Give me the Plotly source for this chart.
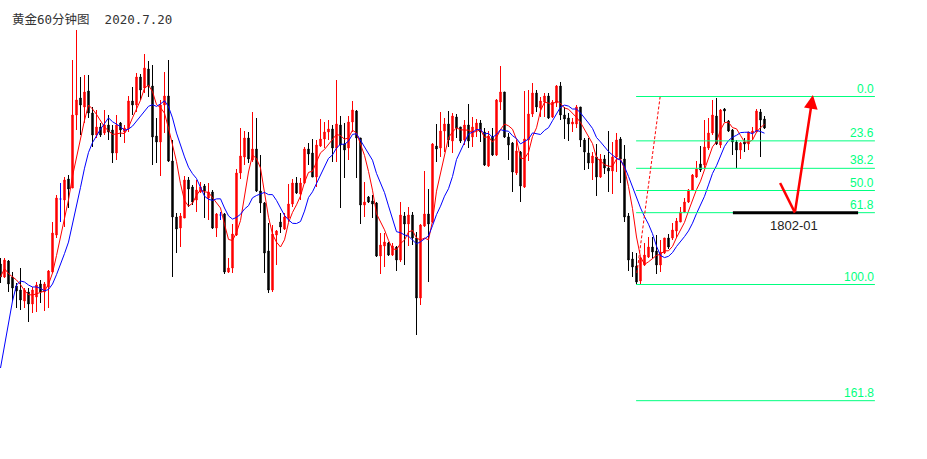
import numpy as np
import pandas as pd
import plotly.graph_objects as go

# ---------------- data (gold, 60-minute bars) ----------------
opens = [
    1796.9, 1795.6, 1797.2, 1795.6, 1794.7, 1794.3, 1793.2, 1794.1, 1792.9, 1793.6,
    1794.9, 1794.1, 1794.6, 1796.1, 1799.8, 1803.4, 1803.3, 1805.4, 1804.5, 1811.8,
    1813.5, 1812.6, 1814.2, 1812.0, 1809.8, 1810.6, 1810.0, 1810.8, 1810.3, 1808.0,
    1811.0, 1810.1, 1810.5, 1813.2, 1812.8, 1815.6, 1814.5, 1816.4, 1814.7, 1809.7,
    1809.1, 1812.8, 1813.7, 1807.2, 1801.6, 1800.5, 1801.5, 1805.3, 1804.6, 1803.3,
    1804.1, 1804.7, 1803.5, 1804.1, 1800.5, 1801.8, 1801.9, 1796.1, 1796.5, 1799.8,
    1806.0, 1807.6, 1809.5, 1807.3, 1808.4, 1804.2, 1803.0, 1798.2, 1794.3, 1799.8,
    1801.1, 1800.4, 1801.5, 1802.9, 1805.0, 1803.9, 1805.0, 1808.4, 1808.0, 1805.6,
    1808.7, 1809.4, 1810.1, 1810.4, 1808.5, 1810.8, 1808.9, 1808.5, 1811.1, 1812.2,
    1809.5, 1802.8, 1803.6, 1803.2, 1803.0, 1797.7, 1798.7, 1799.0, 1797.8, 1798.6,
    1797.3, 1801.7, 1800.9, 1801.8, 1799.5, 1793.5, 1800.7, 1801.9, 1801.1, 1808.7,
    1808.5, 1810.2, 1810.9, 1809.2, 1811.6, 1810.6, 1809.3, 1810.8, 1809.6, 1810.3,
    1811.0, 1810.1, 1806.7, 1809.6, 1807.8, 1813.1, 1814.1, 1809.6, 1809.0, 1806.0,
    1808.1, 1804.6, 1809.3, 1811.9, 1814.0, 1812.5, 1813.1, 1813.7, 1811.6, 1813.0,
    1814.7, 1811.8, 1811.5, 1810.9, 1810.9, 1812.6, 1809.3, 1808.0, 1807.0, 1807.6,
    1805.6, 1807.4, 1806.5, 1806.2, 1807.6, 1809.4, 1807.4, 1801.7, 1797.4, 1796.7,
    1795.2, 1796.8, 1797.6, 1798.6, 1798.2, 1796.8, 1798.0, 1799.5, 1799.5, 1800.2,
    1801.1, 1802.1, 1803.1, 1804.3, 1805.6, 1806.9, 1806.8, 1808.5, 1810.0, 1811.7,
    1808.8, 1812.4, 1811.2, 1810.3, 1809.1, 1808.3, 1809.1, 1808.9, 1810.0, 1810.1,
    1812.1, 1811.4,
]
highs = [
    1797.5, 1797.5, 1797.3, 1796.1, 1795.0, 1796.5, 1794.5, 1794.5, 1794.6, 1795.1,
    1795.3, 1795.1, 1796.3, 1801.1, 1803.8, 1805.0, 1805.6, 1805.8, 1817.3, 1820.3,
    1815.6, 1815.8, 1815.8, 1812.6, 1812.3, 1811.0, 1812.3, 1811.8, 1810.8, 1811.8,
    1811.1, 1810.8, 1813.7, 1814.6, 1816.0, 1815.9, 1817.9, 1817.2, 1816.8, 1811.5,
    1813.3, 1816.1, 1817.3, 1809.3, 1802.0, 1802.0, 1805.7, 1805.6, 1804.8, 1805.3,
    1805.1, 1804.9, 1805.0, 1804.3, 1802.0, 1802.1, 1802.0, 1797.5, 1800.9, 1806.4,
    1810.5, 1810.2, 1810.1, 1812.1, 1811.5, 1807.8, 1803.1, 1801.0, 1800.8, 1800.3,
    1802.0, 1802.0, 1804.9, 1805.4, 1805.6, 1805.5, 1808.6, 1809.0, 1809.4, 1809.3,
    1811.4, 1811.1, 1811.3, 1810.8, 1815.3, 1811.7, 1811.0, 1811.7, 1813.2, 1812.3,
    1809.5, 1805.1, 1803.7, 1803.8, 1803.1, 1800.0, 1800.0, 1799.1, 1799.0, 1798.7,
    1803.1, 1802.1, 1802.6, 1802.1, 1800.1, 1800.9, 1806.2, 1804.4, 1809.0, 1810.9,
    1812.1, 1811.5, 1812.2, 1812.0, 1811.9, 1810.6, 1811.3, 1812.9, 1811.6, 1811.4,
    1811.3, 1810.5, 1810.2, 1810.5, 1813.4, 1816.7, 1814.1, 1810.0, 1809.1, 1809.3,
    1808.2, 1814.2, 1814.3, 1815.0, 1814.3, 1813.6, 1814.0, 1814.0, 1813.3, 1814.8,
    1815.1, 1812.6, 1812.0, 1811.5, 1812.8, 1812.6, 1809.5, 1809.5, 1808.1, 1808.9,
    1807.9, 1807.8, 1810.2, 1809.1, 1810.0, 1809.6, 1808.8, 1802.0, 1798.1, 1798.0,
    1797.6, 1799.0, 1799.6, 1799.6, 1799.8, 1799.3, 1799.5, 1799.9, 1801.0, 1801.5,
    1802.6, 1803.5, 1804.4, 1805.9, 1807.2, 1808.7, 1811.3, 1811.5, 1813.3, 1813.5,
    1812.4, 1812.5, 1811.3, 1810.4, 1809.3, 1809.1, 1809.5, 1810.1, 1810.6, 1812.4,
    1812.4, 1811.7,
]
lows = [
    1795.0, 1795.5, 1794.1, 1793.2, 1792.5, 1792.3, 1792.5, 1791.1, 1792.0, 1792.1,
    1793.0, 1792.2, 1792.5, 1796.0, 1799.5, 1801.1, 1800.6, 1802.5, 1804.5, 1810.3,
    1809.8, 1811.0, 1811.5, 1808.6, 1809.5, 1809.6, 1809.8, 1809.3, 1807.0, 1807.3,
    1809.6, 1809.0, 1810.1, 1811.8, 1812.1, 1813.3, 1814.0, 1813.6, 1806.8, 1807.0,
    1805.7, 1810.0, 1807.1, 1795.6, 1798.0, 1798.6, 1801.5, 1802.6, 1802.8, 1802.1,
    1804.0, 1801.5, 1801.3, 1800.4, 1799.6, 1801.3, 1795.9, 1796.0, 1796.0, 1799.7,
    1805.4, 1806.8, 1807.0, 1807.1, 1804.1, 1802.0, 1796.0, 1794.0, 1794.1, 1796.8,
    1800.0, 1800.3, 1801.1, 1802.6, 1803.9, 1803.3, 1804.9, 1806.8, 1805.6, 1804.6,
    1808.6, 1808.5, 1809.3, 1807.1, 1807.1, 1802.5, 1805.5, 1807.3, 1810.1, 1805.5,
    1800.9, 1801.6, 1803.0, 1801.5, 1797.6, 1795.9, 1796.6, 1797.7, 1797.7, 1796.2,
    1797.1, 1796.8, 1798.7, 1798.8, 1789.8, 1792.8, 1800.6, 1795.1, 1801.0, 1807.1,
    1807.6, 1808.1, 1808.6, 1808.0, 1809.5, 1809.0, 1808.8, 1808.5, 1808.6, 1809.6,
    1809.1, 1806.7, 1806.6, 1807.7, 1807.7, 1812.3, 1809.5, 1807.3, 1804.1, 1805.8,
    1803.1, 1804.5, 1807.2, 1811.6, 1812.1, 1811.6, 1811.6, 1811.4, 1811.5, 1812.6,
    1811.3, 1809.4, 1809.2, 1810.1, 1810.5, 1808.6, 1806.3, 1806.4, 1805.3, 1803.7,
    1805.5, 1805.9, 1804.1, 1803.9, 1806.1, 1805.0, 1801.1, 1796.2, 1795.6, 1794.9,
    1794.9, 1796.7, 1797.5, 1797.5, 1795.9, 1796.1, 1797.9, 1798.4, 1799.3, 1799.5,
    1801.1, 1802.0, 1803.0, 1804.2, 1805.5, 1806.1, 1806.5, 1808.3, 1809.8, 1808.8,
    1808.5, 1811.1, 1810.1, 1807.8, 1806.5, 1807.4, 1808.1, 1808.3, 1809.3, 1810.1,
    1807.6, 1810.4,
]
closes = [
    1795.6, 1797.3, 1794.9, 1794.5, 1794.2, 1793.3, 1794.3, 1792.9, 1794.3, 1794.8,
    1794.1, 1794.9, 1796.2, 1800.0, 1803.5, 1803.4, 1805.3, 1804.4, 1811.8, 1813.3,
    1812.8, 1814.1, 1812.0, 1809.8, 1810.6, 1809.8, 1810.8, 1810.1, 1808.0, 1810.8,
    1810.3, 1810.5, 1813.2, 1812.8, 1815.6, 1814.3, 1816.5, 1814.7, 1809.6, 1809.1,
    1812.8, 1813.7, 1807.2, 1801.6, 1800.4, 1801.7, 1805.3, 1804.4, 1803.1, 1804.3,
    1804.6, 1804.2, 1804.1, 1800.5, 1801.9, 1801.8, 1796.1, 1796.5, 1799.9, 1806.0,
    1807.7, 1809.5, 1807.4, 1808.4, 1804.2, 1803.0, 1798.0, 1794.3, 1799.9, 1800.2,
    1800.6, 1801.6, 1802.9, 1805.0, 1804.0, 1805.0, 1808.4, 1807.9, 1805.6, 1808.8,
    1809.4, 1810.1, 1810.4, 1808.5, 1810.9, 1808.8, 1808.3, 1811.1, 1812.3, 1809.5,
    1802.8, 1803.1, 1803.1, 1802.9, 1797.7, 1798.8, 1799.1, 1797.8, 1798.7, 1797.3,
    1801.8, 1800.9, 1801.8, 1799.5, 1793.5, 1800.8, 1801.9, 1800.9, 1808.9, 1808.4,
    1810.2, 1810.9, 1809.3, 1811.7, 1810.5, 1809.2, 1810.8, 1809.2, 1810.6, 1811.0,
    1810.1, 1806.8, 1809.7, 1807.8, 1813.3, 1814.1, 1809.6, 1808.8, 1806.1, 1808.2,
    1804.7, 1809.4, 1811.9, 1814.0, 1812.6, 1813.2, 1813.7, 1811.5, 1813.1, 1814.7,
    1811.8, 1811.4, 1810.9, 1811.1, 1812.6, 1809.3, 1808.1, 1807.0, 1807.7, 1805.6,
    1807.4, 1806.5, 1806.2, 1807.6, 1809.3, 1807.4, 1801.6, 1797.3, 1796.6, 1795.1,
    1797.5, 1797.8, 1798.6, 1798.1, 1796.8, 1798.1, 1799.5, 1798.6, 1800.3, 1801.2,
    1802.1, 1803.1, 1804.3, 1805.8, 1806.4, 1806.3, 1808.6, 1810.0, 1811.8, 1808.9,
    1812.3, 1812.2, 1810.2, 1809.1, 1808.3, 1809.0, 1808.9, 1810.1, 1810.2, 1812.2,
    1811.3, 1810.5,
]
# blue MA values read for the first bars (before 10 closes are available)
ma10_head = [1786.5, 1788.6, 1790.9, 1793.2, 1794.8, 1795.2, 1795.1, 1794.8, 1794.6]

# Fibonacci retracement
fib_high = 1813.65
fib_low = 1794.85
fib_ratios = [0.0, 23.6, 38.2, 50.0, 61.8, 100.0, 161.8]
fib_labels = ["0.0", "23.6", "38.2", "50.0", "61.8", "100.0", "161.8"]
fib_x = [158.9, 218.6]

support_label = "1802-01"
title_text = "黄金60分钟图  2020.7.20"

# ---------------- build ----------------
n = len(closes)
x = np.arange(n)
o = np.array(opens); h = np.array(highs); l = np.array(lows); c = np.array(closes)
doji = o == c
norm = ~doji

cs = pd.Series(closes)
ma5 = cs.rolling(5, min_periods=1).mean().values
ma10 = cs.rolling(10).mean().values
ma10[:len(ma10_head)] = ma10_head

fig = go.Figure()
fig.add_trace(go.Candlestick(
    x=x[norm], open=o[norm], high=h[norm], low=l[norm], close=c[norm],
    increasing=dict(line=dict(color="#ff0000", width=1), fillcolor="#ff0000"),
    decreasing=dict(line=dict(color="#000000", width=1), fillcolor="#000000"),
    whiskerwidth=0, showlegend=False, hoverinfo="skip"))
fig.add_trace(go.Candlestick(
    x=x[doji], open=o[doji], high=h[doji], low=l[doji], close=c[doji],
    increasing=dict(line=dict(color="#0000ff", width=1), fillcolor="#0000ff"),
    decreasing=dict(line=dict(color="#0000ff", width=1), fillcolor="#0000ff"),
    whiskerwidth=0, showlegend=False, hoverinfo="skip"))
fig.add_trace(go.Scatter(x=x, y=ma5, mode="lines", line=dict(color="#ff0000", width=1),
                         showlegend=False, hoverinfo="skip"))
fig.add_trace(go.Scatter(x=x, y=ma10, mode="lines", line=dict(color="#0000ff", width=1),
                         showlegend=False, hoverinfo="skip"))

green = "#00ff7f"
shapes = []
annotations = []
levels = {}
for r, lab in zip(fib_ratios, fib_labels):
    lv = fib_high - r / 100.0 * (fib_high - fib_low)
    levels[lab] = lv
    shapes.append(dict(type="line", xref="x", yref="y", x0=fib_x[0], x1=fib_x[1],
                       y0=lv, y1=lv, line=dict(color=green, width=1)))
    annotations.append(dict(x=fib_x[1], y=lv, xref="x", yref="y", text=lab,
                            showarrow=False, xanchor="right", yanchor="bottom",
                            yshift=-1, xshift=1,
                            font=dict(family="Liberation Sans, Arial", size=12, color=green)))

sup = levels["61.8"]
# dashed projection line
shapes.append(dict(type="line", xref="x", yref="y", x0=159.1, y0=1796.0, x1=164.9, y1=1813.6,
                   line=dict(color="#ff0000", width=1, dash="3px,2px")))
# black support line
shapes.append(dict(type="line", xref="x", yref="y", x0=183.1, x1=214.4, y0=sup, y1=sup,
                   line=dict(color="#000000", width=3)))
# red arrow first leg
shapes.append(dict(type="line", xref="x", yref="y", x0=194.9, y0=1805.0, x1=198.6, y1=sup,
                   line=dict(color="#ff0000", width=2.5)))
annotations.append(dict(x=203.1, y=1813.8, ax=198.6, ay=sup, xref="x", yref="y",
                        axref="x", ayref="y", text="", showarrow=True, arrowhead=2,
                        arrowsize=1.1, arrowwidth=2.5, arrowcolor="#ff0000", standoff=0))
annotations.append(dict(x=198.4, y=sup, xref="x", yref="y", text=support_label,
                        showarrow=False, xanchor="center", yanchor="top", yshift=-3,
                        font=dict(family="Liberation Sans, Arial", size=13, color="#222222")))
annotations.append(dict(x=10 / 927, y=1 - 19.5 / 459, xref="paper", yref="paper",
                        text=title_text, showarrow=False, xanchor="left", yanchor="middle",
                        font=dict(family="DejaVu Sans Mono, Noto Sans CJK SC", size=12.5,
                                  color="#333333")))

fig.update_layout(
    width=927, height=459,
    margin=dict(l=0, r=0, t=0, b=0),
    paper_bgcolor="white", plot_bgcolor="white",
    boxgap=0.5,
    shapes=shapes, annotations=annotations,
    showlegend=False,
    xaxis=dict(range=[-0.125, 231.625], visible=False, rangeslider=dict(visible=False),
               fixedrange=True),
    yaxis=dict(range=[1777.4, 1823.3], visible=False, fixedrange=True),
)

fig.write_html("out.html",
               config={"displayModeBar": False, "staticPlot": True},
               post_script="document.body.style.margin='0';document.body.style.overflow='hidden';")
